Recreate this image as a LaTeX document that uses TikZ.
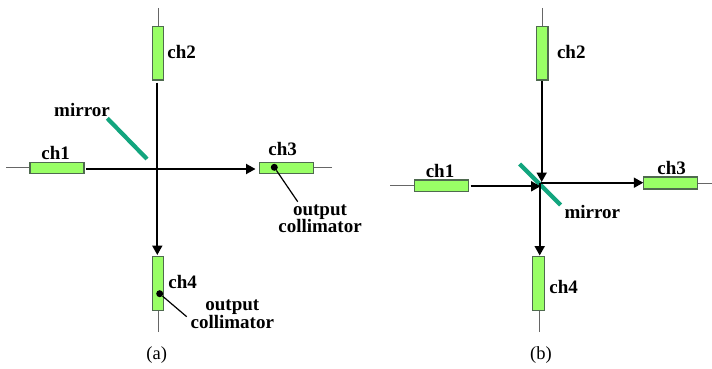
\documentclass[tikz,border=0pt]{standalone}
\usepackage{fontspec}
\setmainfont{Liberation Serif}
\usetikzlibrary{arrows.meta}
\definecolor{boxgreen}{HTML}{99FF66}
\definecolor{boxedge}{HTML}{4F6A4F}
\definecolor{mirrorteal}{HTML}{12A57E}
\tikzset{
  hbox/.style={draw=boxedge,fill=boxgreen,line width=1.2pt,minimum width=54pt,minimum height=11.4pt,inner sep=0pt,outer sep=0pt},
  vbox/.style={draw=boxedge,fill=boxgreen,line width=1.2pt,minimum width=11.4pt,minimum height=53.7pt,inner sep=0pt,outer sep=0pt},
  fibre/.style={draw=black!60,line width=1pt},
  beam/.style={draw=black,line width=2pt,-{Triangle[length=9.5pt,width=10pt]}},
  mirrorbar/.style={draw=mirrorteal,line width=4.2pt},
  lab/.style={font=\fontsize{19}{20}\selectfont\bfseries,inner sep=0pt},
  lab2/.style={font=\fontsize{19}{17.6}\selectfont\bfseries,inner sep=0pt,align=center},
  subcaption/.style={font=\fontsize{18.5}{20}\selectfont,inner sep=0pt},
  pointer/.style={draw=black,line width=1.2pt},
  spot/.style={circle,fill=black,inner sep=0pt,minimum size=7pt}
}
\begin{document}
\begin{tikzpicture}[x=1pt,y=-1pt]
\useasboundingbox (0,0) rectangle (712,369);
% panel (a)
\coordinate (a2o) at (158,8);
\coordinate (a4o) at (158,332);
\coordinate (a1o) at (6,167.8);
\coordinate (a3o) at (332,167.8);
\coordinate (a2f) at (158,26);
\coordinate (a4f) at (158,310);
\coordinate (a1f) at (30,167.8);
\coordinate (a3f) at (313,167.8);
\draw[fibre] (a2o) -- (a2f);
\draw[fibre] (a4o) -- (a4f);
\draw[fibre] (a1o) -- (a1f);
\draw[fibre] (a3o) -- (a3f);
\node[vbox] (a2) at (158,53.2) {};
\node[vbox] (a4) at (158,283.4) {};
\node[hbox] (a1) at (56.9,168) {};
\node[hbox] (a3) at (286.3,168) {};
\coordinate (avs) at (157.3,82.7);
\coordinate (ave) at (157.3,255);
\coordinate (ahs) at (86.3,169);
\coordinate (ahe) at (255.5,169);
\draw[beam] (avs) -- (ave);
\draw[beam] (ahs) -- (ahe);
\coordinate (am1) at (107.3,118.3);
\coordinate (am2) at (147,159);
\draw[mirrorbar] (am1) -- (am2);
\node[spot] (ad3) at (274.3,167.3) {};
\node[spot] (ad4) at (159.7,293.7) {};
\coordinate (ap3) at (297.7,201.7);
\coordinate (ap4) at (186.7,316.7);
\draw[pointer] (ad3) -- (ap3);
\draw[pointer] (ad4) -- (ap4);
\node[lab] (tm) at (82,110) {mirror};
\node[lab] (t1) at (55.7,152.7) {ch1};
\node[lab] (t2) at (181.7,52.3) {ch2};
\node[lab] (t3) at (282.7,149) {ch3};
\node[lab] (t4) at (182.7,282) {ch4};
\node[lab2] (to3) at (320,218.7) {output\\collimator};
\node[lab2] (to4) at (232.3,314.5) {output\\collimator};
\node[subcaption] (ca) at (156.7,355.5) {(a)};
% panel (b)
\coordinate (b2o) at (542.3,8);
\coordinate (b4o) at (539,332);
\coordinate (b1o) at (390.3,185.7);
\coordinate (b3o) at (712,183);
\coordinate (b2f) at (542.3,26);
\coordinate (b4f) at (539,310);
\coordinate (b1f) at (414,185.7);
\coordinate (b3f) at (697.7,183);
\draw[fibre] (b2o) -- (b2f);
\draw[fibre] (b4o) -- (b4f);
\draw[fibre] (b1o) -- (b1f);
\draw[fibre] (b3o) -- (b3f);
\node[vbox] (b2) at (542.2,53.2) {};
\node[vbox,minimum width=12pt] (b4) at (538.3,283.4) {};
\node[hbox] (b1) at (441.5,185.7) {};
\node[hbox,minimum height=12pt] (b3) at (670.5,183) {};
\coordinate (bm1) at (519.7,164);
\coordinate (bm2) at (560.7,205);
\draw[mirrorbar] (bm1) -- (bm2);
\coordinate (bvs) at (541.7,81);
\coordinate (bve) at (541.7,182);
\coordinate (bhs) at (470.7,186.3);
\coordinate (bhe) at (540.5,186.3);
\coordinate (brs) at (541,182.7);
\coordinate (bre) at (643.3,182.7);
\coordinate (bds) at (539.7,183);
\coordinate (bde) at (539.7,255.5);
\draw[beam] (bvs) -- (bve);
\draw[beam] (bhs) -- (bhe);
\draw[beam] (brs) -- (bre);
\draw[beam] (bds) -- (bde);
\node[lab] (um) at (592.3,212.3) {mirror};
\node[lab] (u1) at (440,171.3) {ch1};
\node[lab] (u2) at (571.3,52.3) {ch2};
\node[lab] (u3) at (671.7,167.7) {ch3};
\node[lab] (u4) at (563.7,286.7) {ch4};
\node[subcaption] (cb) at (541,355) {(b)};
\end{tikzpicture}
\end{document}
